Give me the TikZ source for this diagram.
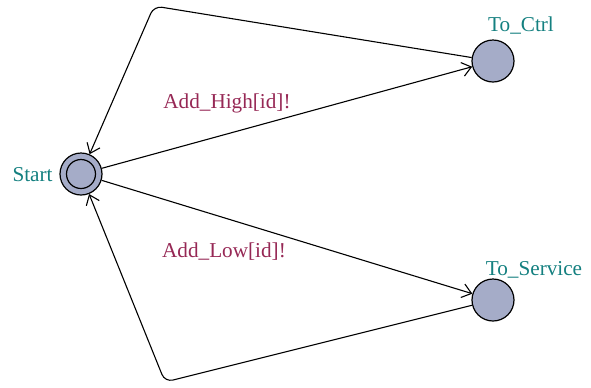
\documentclass[tikz,border=0pt]{standalone}
\usepackage{fontspec}
\setmainfont{Liberation Serif}
\usetikzlibrary{arrows.meta}

\definecolor{locfill}{RGB}{165,172,200}
\definecolor{locname}{RGB}{20,128,128}
\definecolor{syncname}{RGB}{150,40,85}

\tikzset{
  loc/.style={circle,draw,fill=locfill,minimum size=21pt,inner sep=0pt,line width=0.6pt},
  locinner/.style={circle,draw,minimum size=14.5pt,inner sep=0pt,line width=0.6pt},
  loclabel/.style={text=locname,inner sep=1pt,font=\fontsize{10.6}{12}\selectfont},
  synclabel/.style={text=syncname,inner sep=1pt,font=\fontsize{10.6}{12}\selectfont},
  trans/.style={-{Straight Barb[length=4.5pt,width=7pt]},line width=0.55pt,rounded corners=4pt}
}

\begin{document}
\begin{tikzpicture}[x=0.5pt,y=-0.5pt]
	\useasboundingbox (0,0) rectangle (591,387);

	% locations
	\node[loc] (start) at (81,174) {};
	\node[locinner] (startin) at (start) {};
	\node[loc] (ctrl) at (493,61) {};
	\node[loc] (serv) at (493,300) {};

	\node[loclabel,anchor=east] (startlbl) at (55,175) {Start};
	\node[loclabel] (ctrllbl) at (521,26) {To\_Ctrl};
	\node[loclabel] (servlbl) at (534,270) {To\_Service};

	% bend points of the return edges
	\coordinate (topbend) at (154,6);
	\coordinate (botbend) at (165,382);

	% transitions
	\draw[trans] (start) -- (ctrl);
	\draw[trans] (ctrl) -- (topbend) -- (start);
	\draw[trans] (start) -- (serv);
	\draw[trans] (serv) -- (botbend) -- (start);

	\node[synclabel] (highlbl) at (227,103) {Add\_High[id]!};
	\node[synclabel] (lowlbl) at (224,252) {Add\_Low[id]!};
\end{tikzpicture}
\end{document}
